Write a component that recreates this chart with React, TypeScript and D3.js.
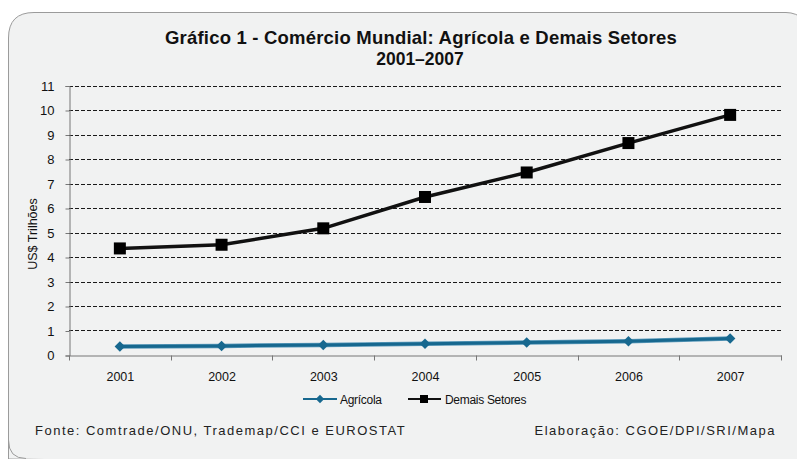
import { useEffect, useRef } from 'react';
import * as d3 from 'd3';

const years = ["2001", "2002", "2003", "2004", "2005", "2006", "2007"];
const agricola = [0.35, 0.37, 0.41, 0.46, 0.51, 0.56, 0.67];
const demais = [4.35, 4.5, 5.17, 6.45, 7.45, 8.65, 9.8];
const yTicks = [0, 1, 2, 3, 4, 5, 6, 7, 8, 9, 10, 11];

const sans = "'Liberation Sans', Arial, sans-serif";

export default function App() {
    const ref = useRef<SVGSVGElement>(null);

    useEffect(() => {
        if (!ref.current) return;
        const svg = d3.select(ref.current);
        svg.selectAll("*").remove();

        const width = 797;
        const marginLeft = 69;
        const marginRight = 16;
        const bottomY = 355;

        // panel background
        svg.append("path")
            .attr("d", "M8.5,459 L8.5,38 Q8.5,12.5 34,12.5 L786,12.5 Q796,12.5 805,20 L805,470 Z")
            .attr("fill", "#f1f2f2")
            .attr("stroke", "#9b9b9b")
            .attr("stroke-width", 1);
        svg.append("path")
            .attr("d", "M8.5,440 Q8.5,458.5 26,458.5")
            .attr("fill", "none")
            .attr("stroke", "#9b9b9b");

        const x = d3.scaleBand()
            .domain(years)
            .range([marginLeft, width - marginRight]);

        const y = d3.scaleLinear()
            .domain([0, 11])
            .range([bottomY, bottomY - 11 * 24.5]);

        // gridlines
        svg.append("g")
            .selectAll("line")
            .data(yTicks.filter(d => d > 0))
            .join("line")
            .attr("x1", marginLeft)
            .attr("x2", width - marginRight)
            .attr("y1", d => Math.round(y(d)) + 0.5)
            .attr("y2", d => Math.round(y(d)) + 0.5)
            .attr("stroke", "#1a1a1a")
            .attr("stroke-width", 1)
            .attr("stroke-dasharray", "4,2");

        // y axis
        const yAxis = svg.append("g")
            .attr("transform", `translate(${marginLeft + 0.5},0.5)`)
            .call(d3.axisLeft(y).tickValues(yTicks).tickSize(4).tickPadding(11));
        yAxis.select(".domain").attr("stroke", "#777");
        yAxis.selectAll(".tick line").attr("stroke", "#777");
        yAxis.selectAll("text")
            .style("font-family", sans)
            .style("font-size", "13px")
            .attr("fill", "#111");

        // x axis
        const xAxis = svg.append("g")
            .attr("transform", `translate(0.5,${bottomY + 0.5})`)
            .call(d3.axisBottom(x).tickSizeOuter(0).tickSize(0).tickPadding(17));
        xAxis.select(".domain").attr("stroke", "#777");
        xAxis.selectAll("text")
            .style("font-family", sans)
            .style("font-size", "12.5px")
            .attr("fill", "#111");
        xAxis.append("g")
            .selectAll("line")
            .data([...years.map(d => x(d) as number), width - marginRight])
            .join("line")
            .attr("x1", d => Math.round(d))
            .attr("x2", d => Math.round(d))
            .attr("y1", 0)
            .attr("y2", 5)
            .attr("stroke", "#777");

        const cx = (d: string) => (x(d) as number) + x.bandwidth() / 2;

        const line = d3.line<number>()
            .x((d, i) => cx(years[i]))
            .y(d => y(d));

        // Demais Setores
        svg.append("path")
            .datum(demais)
            .attr("d", line)
            .attr("fill", "none")
            .attr("stroke", "#111")
            .attr("stroke-width", 3.5);
        svg.append("g")
            .selectAll("rect")
            .data(demais)
            .join("rect")
            .attr("x", (d, i) => cx(years[i]) - 6)
            .attr("y", d => y(d) - 6)
            .attr("width", 12)
            .attr("height", 12)
            .attr("fill", "#000");

        // Agrícola
        const blue = "#17688f";
        svg.append("path")
            .datum(agricola)
            .attr("d", line)
            .attr("fill", "none")
            .attr("stroke", "#5d9bbb")
            .attr("stroke-width", 4.5);
        svg.append("path")
            .datum(agricola)
            .attr("d", line)
            .attr("fill", "none")
            .attr("stroke", blue)
            .attr("stroke-width", 3);
        const diamond = d3.symbol().type(d3.symbolDiamond2).size(70);
        svg.append("g")
            .selectAll("path")
            .data(agricola)
            .join("path")
            .attr("transform", (d, i) => `translate(${cx(years[i])},${y(d)})`)
            .attr("d", diamond)
            .attr("fill", blue);

        // title
        svg.append("text")
            .attr("x", 421)
            .attr("y", 44)
            .attr("text-anchor", "middle")
            .style("font-family", sans)
            .style("font-size", "18.5px")
            .style("letter-spacing", "0.2px")
            .style("font-weight", "bold")
            .attr("fill", "#111")
            .text("Gráfico 1 - Comércio Mundial: Agrícola e Demais Setores");
        svg.append("text")
            .attr("x", 420)
            .attr("y", 65)
            .attr("text-anchor", "middle")
            .style("font-family", sans)
            .style("font-size", "17.5px")
            .style("font-weight", "bold")
            .attr("fill", "#111")
            .text("2001–2007");

        // y label
        svg.append("text")
            .attr("transform", `translate(37,234) rotate(-90)`)
            .attr("text-anchor", "middle")
            .style("font-family", sans)
            .style("font-size", "12.5px")
            .attr("fill", "#111")
            .text("US$ Trilhões");

        // legend
        const legendY = 399;
        const legend = svg.append("g");
        legend.append("line")
            .attr("x1", 303).attr("x2", 337)
            .attr("y1", legendY).attr("y2", legendY)
            .attr("stroke", blue).attr("stroke-width", 2);
        legend.append("path")
            .attr("transform", `translate(320,${legendY})`)
            .attr("d", d3.symbol().type(d3.symbolDiamond2).size(45))
            .attr("fill", blue);
        legend.append("text")
            .attr("x", 340).attr("y", legendY + 4.5)
            .style("font-family", sans)
            .style("font-size", "12px")
            .style("letter-spacing", "-0.3px")
            .attr("fill", "#111")
            .text("Agrícola");
        legend.append("line")
            .attr("x1", 408).attr("x2", 441)
            .attr("y1", legendY).attr("y2", legendY)
            .attr("stroke", "#111").attr("stroke-width", 2);
        legend.append("rect")
            .attr("x", 420).attr("y", legendY - 4)
            .attr("width", 8).attr("height", 8)
            .attr("fill", "#000");
        legend.append("text")
            .attr("x", 445).attr("y", legendY + 4.5)
            .style("font-family", sans)
            .style("font-size", "12px")
            .style("letter-spacing", "-0.3px")
            .attr("fill", "#111")
            .text("Demais Setores");

        // footer
        svg.append("text")
            .attr("x", 35).attr("y", 435)
            .style("font-family", sans)
            .style("font-size", "13px")
            .style("letter-spacing", "1.5px")
            .attr("fill", "#222")
            .text("Fonte: Comtrade/ONU, Trademap/CCI e EUROSTAT");
        svg.append("text")
            .attr("x", 776).attr("y", 435)
            .attr("text-anchor", "end")
            .style("font-family", sans)
            .style("font-size", "13px")
            .style("letter-spacing", "1.5px")
            .attr("fill", "#222")
            .text("Elaboração: CGOE/DPI/SRI/Mapa");
    }, []);

    return (
        <svg ref={ref} width={797} height={459}
            style={{ position: "absolute", left: 0, top: 0, background: "#fff" }}></svg>
    );
}
